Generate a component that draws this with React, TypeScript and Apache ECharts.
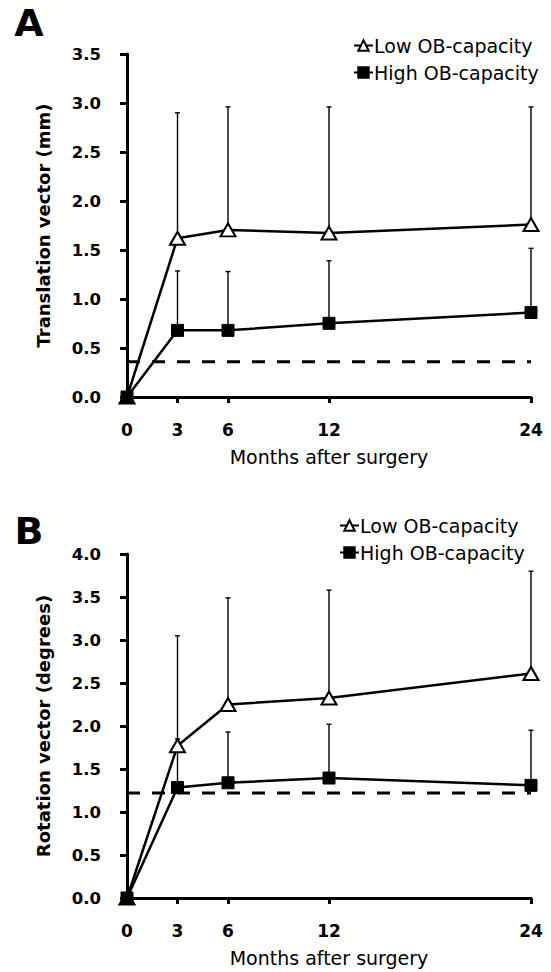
import React, { useEffect, useRef } from "react";
import * as echarts from "echarts";

// ---- data ----
const months = [0, 3, 6, 12, 24];
const xTickValues = [0, 3, 6, 12, 24];

// Panel A: translation vector (mm)
const transLow = [0, 1.62, 1.705, 1.673, 1.76];
const transLowUpper = [0, 2.9, 2.96, 2.96, 2.96];
const transHigh = [0, 0.68, 0.68, 0.752, 0.862];
const transHighUpper = [0, 1.286, 1.28, 1.39, 1.517];
const transThreshold = 0.36;

// Panel B: rotation vector (degrees)
const rotLow = [0, 1.77, 2.25, 2.325, 2.61];
const rotLowUpper = [0, 3.05, 3.49, 3.58, 3.8];
const rotHigh = [0, 1.285, 1.34, 1.395, 1.31];
const rotHighUpper = [0, 1.85, 1.93, 2.02, 1.95];
const rotThreshold = 1.22;

const seriesNames = ["Low OB-capacity", "High OB-capacity"];
const panelLetters = ["A", "B"];
const yAxisNames = ["Translation vector (mm)", "Rotation vector (degrees)"];
const xAxisName = "Months after surgery";

const FONT = "DejaVu Sans";

function pairs(xs: number[], ys: number[]) {
  return xs.map((x, i) => [x, ys[i]]);
}
function errData(xs: number[], ys: number[], up: number[]) {
  return xs
    .map((x, i) => [x, ys[i], up[i]])
    .filter((d) => d[2] > d[1]);
}

const renderErr = (params: any, api: any) => {
  const x = api.value(0);
  const y = api.value(1);
  const top = api.value(2);
  const p0 = api.coord([x, y]);
  const p1 = api.coord([x, top]);
  const st = { stroke: "#000", lineWidth: 1.4 };
  return {
    type: "group",
    children: [
      { type: "line", shape: { x1: p0[0], y1: p0[1], x2: p1[0], y2: p1[1] }, style: st },
      { type: "line", shape: { x1: p1[0] - 2.5, y1: p1[1], x2: p1[0] + 2.5, y2: p1[1] }, style: st },
    ],
  };
};

export default function App() {
  const ref = useRef<HTMLDivElement>(null);
  useEffect(() => {
    document.body.style.margin = "0";
    if (!ref.current) return;
    const chart = echarts.init(ref.current, null, { renderer: "svg" });

    const grids = [
      { left: 127, top: 54, width: 404, height: 343 },
      { left: 127, top: 554, width: 404, height: 344 },
    ];
    const yMax = [3.5, 4.0];

    const xAxes = grids.map((_, i) => ({
      type: "value",
      gridIndex: i,
      min: 0,
      max: 24,
      name: xAxisName,
      nameLocation: "middle",
      nameGap: 50,
      nameTextStyle: { fontFamily: FONT, fontSize: 19, color: "#000" },
      axisLine: { show: true, lineStyle: { color: "#000", width: 3 } },
      axisTick: { show: true, customValues: xTickValues, length: 6, lineStyle: { color: "#000", width: 3 } },
      axisLabel: {
        customValues: xTickValues,
        margin: 24,
        fontFamily: FONT,
        fontSize: 17,
        fontWeight: "bold",
        color: "#000",
      },
      splitLine: { show: false },
    }));

    const yAxes = grids.map((_, i) => ({
      type: "value",
      gridIndex: i,
      min: 0,
      max: yMax[i],
      interval: 0.5,
      name: yAxisNames[i],
      nameLocation: "middle",
      nameGap: 75,
      nameTextStyle: { fontFamily: FONT, fontSize: 18, fontWeight: "bold", color: "#000" },
      axisLine: { show: true, lineStyle: { color: "#000", width: 3 } },
      axisTick: { show: true, length: 7, lineStyle: { color: "#000", width: 3 } },
      axisLabel: {
        margin: 26,
        fontFamily: FONT,
        fontSize: 16.5,
        fontWeight: "bold",
        color: "#000",
        formatter: (v: number) => v.toFixed(1),
      },
      splitLine: { show: false },
    }));

    const panels = [
      { low: transLow, lowUp: transLowUpper, high: transHigh, highUp: transHighUpper, thr: transThreshold },
      { low: rotLow, lowUp: rotLowUpper, high: rotHigh, highUp: rotHighUpper, thr: rotThreshold },
    ];

    const series: any[] = [];
    panels.forEach((p, i) => {
      series.push({
        type: "custom",
        name: "errLow" + i,
        xAxisIndex: i,
        yAxisIndex: i,
        z: 1,
        renderItem: renderErr,
        data: errData(months, p.low, p.lowUp),
        silent: true,
      });
      series.push({
        type: "custom",
        name: "errHigh" + i,
        xAxisIndex: i,
        yAxisIndex: i,
        z: 1,
        renderItem: renderErr,
        data: errData(months, p.high, p.highUp),
        silent: true,
      });
      series.push({
        type: "line",
        name: "thr" + i,
        xAxisIndex: i,
        yAxisIndex: i,
        z: 1,
        symbol: "none",
        silent: true,
        lineStyle: { color: "#000", width: 3, type: [13, 12] },
        data: [
          [0, p.thr],
          [24, p.thr],
        ],
      });
      series.push({
        type: "line",
        name: seriesNames[0],
        xAxisIndex: i,
        yAxisIndex: i,
        z: 3,
        symbol: "triangle",
        symbolSize: [15, 13],
        showAllSymbol: true,
        lineStyle: { color: "#000", width: 2.5 },
        itemStyle: { color: "#fff", borderColor: "#000", borderWidth: 2 },
        data: pairs(months, p.low),
      });
      series.push({
        type: "line",
        name: seriesNames[1],
        xAxisIndex: i,
        yAxisIndex: i,
        z: 4,
        symbol: "rect",
        symbolSize: 12,
        showAllSymbol: true,
        lineStyle: { color: "#000", width: 2.5 },
        itemStyle: { color: "#000", borderColor: "#000", borderWidth: 1 },
        data: pairs(months, p.high),
      });
    });

    const legendCommon = {
      orient: "vertical",
      data: seriesNames,
      itemWidth: 19,
      itemHeight: 13,
      itemGap: 8,
      padding: 0,
      selectedMode: false,
      textStyle: { fontFamily: FONT, fontSize: 19, color: "#000", padding: [0, 0, 0, -4] },
    };

    chart.setOption({
      animation: false,
      backgroundColor: "#fff",
      grid: grids,
      xAxis: xAxes,
      yAxis: yAxes,
      legend: [
        { ...legendCommon, left: 353, top: 36 },
        { ...legendCommon, left: 339, top: 516 },
      ],
      graphic: panelLetters.map((t, i) => ({
        type: "text",
        x: 29,
        y: i === 0 ? 23 : 531,
        style: {
          text: t,
          fontFamily: FONT,
          fontSize: 38,
          fontWeight: "bold",
          fill: "#000",
          align: "center",
          verticalAlign: "middle",
        },
      })),
      series,
    });

    return () => chart.dispose();
  }, []);
  return <div ref={ref} style={{ width: 551, height: 972 }} />;
}
